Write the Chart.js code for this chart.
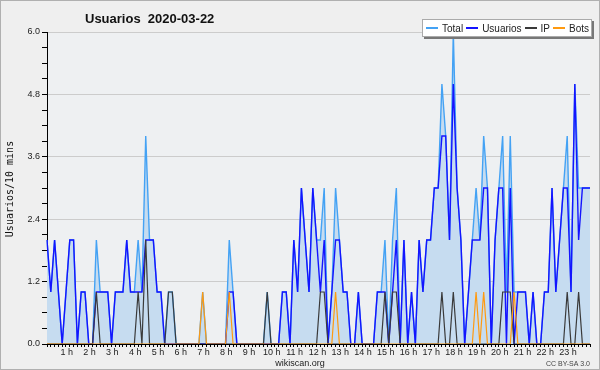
<!DOCTYPE html>
<html>
<head>
<meta charset="utf-8">
<script src="https://cdn.jsdelivr.net/npm/chart.js@4"></script>
<style>
  html, body { margin: 0; padding: 0; background: #efefef; }
  #wrap { position: relative; width: 600px; height: 370px; }
  #legend {
    position: absolute; left: 422px; top: 19px; height: 18px;
    background: #fff; border: 1px solid #aaa; box-shadow: 2px 2px 0 #777;
    font: 10px "Liberation Sans", sans-serif; color: #222;
    display: flex; align-items: center; padding: 0 2px 0 3px; white-space: nowrap; box-sizing: border-box;
  }
  #legend .sw { display: inline-block; width: 12px; height: 1.5px; margin: 0 4px 0 0; }
  #legend .it { margin-right: 3px; display: flex; align-items: center; }
  #legend .it:last-child { margin-right: 0; }
</style>
</head>
<body>
<div id="wrap">
  <canvas id="chart" width="600" height="370"></canvas>
  <div id="legend"></div>
</div>
<script>
// hour labels on the x axis, one per 6 slots of 10 minutes
const hourLabels = ['', '1 h', '2 h', '3 h', '4 h', '5 h', '6 h', '7 h', '8 h', '9 h', '10 h', '11 h',
  '12 h', '13 h', '14 h', '15 h', '16 h', '17 h', '18 h', '19 h', '20 h', '21 h', '22 h', '23 h'];

// values per 10 minutes, one row per hour
const total = [
  2, 1, 2, 1, 0, 1,   2, 2, 0, 1, 1, 0,   0, 2, 1, 1, 1, 0,   1, 1, 1, 2, 1, 1,
  2, 1, 4, 2, 2, 1,   1, 0, 1, 1, 0, 0,   0, 0, 0, 0, 0, 1,   0, 0, 0, 0, 0, 0,
  2, 1, 0, 0, 0, 0,   0, 0, 0, 0, 1, 0,   0, 0, 1, 1, 0, 2,   1, 3, 2, 1, 3, 2,
  2, 3, 0, 1, 3, 2,   1, 1, 0, 0, 1, 0,   0, 0, 0, 1, 1, 2,   0, 2, 3, 0, 2, 0,
  1, 0, 2, 1, 2, 2,   3, 3, 5, 4, 2, 6,   3, 2, 0, 1, 2, 3,   2, 4, 3, 0, 2, 3,
  4, 1, 4, 1, 1, 1,   1, 0, 1, 0, 0, 1,   1, 3, 1, 2, 3, 4,   1, 5, 3, 3, 3, 3
];
const usuarios = [
  2, 1, 2, 1, 0, 1,   2, 2, 0, 1, 1, 0,   0, 1, 1, 1, 1, 0,   1, 1, 1, 2, 1, 1,
  1, 1, 2, 2, 2, 1,   1, 0, 0, 0, 0, 0,   0, 0, 0, 0, 0, 0,   0, 0, 0, 0, 0, 0,
  1, 1, 0, 0, 0, 0,   0, 0, 0, 0, 0, 0,   0, 0, 1, 1, 0, 2,   1, 3, 2, 1, 3, 2,
  1, 2, 0, 1, 2, 2,   1, 1, 0, 0, 1, 0,   0, 0, 0, 1, 1, 1,   0, 1, 2, 0, 2, 0,
  1, 0, 2, 1, 2, 2,   3, 3, 4, 4, 2, 5,   3, 2, 0, 1, 2, 2,   2, 3, 3, 0, 2, 3,
  3, 0, 3, 0, 1, 1,   1, 0, 1, 0, 0, 1,   1, 3, 1, 2, 3, 3,   1, 5, 2, 3, 3, 3
];
const ip = [
  0, 0, 0, 0, 0, 0,   0, 0, 0, 0, 0, 0,   0, 1, 0, 0, 0, 0,   0, 0, 0, 0, 0, 0,
  1, 0, 2, 0, 0, 0,   0, 0, 1, 1, 0, 0,   0, 0, 0, 0, 0, 0,   0, 0, 0, 0, 0, 0,
  0, 0, 0, 0, 0, 0,   0, 0, 0, 0, 1, 0,   0, 0, 0, 0, 0, 0,   0, 0, 0, 0, 0, 0,
  1, 1, 0, 0, 0, 0,   0, 0, 0, 0, 0, 0,   0, 0, 0, 0, 0, 1,   0, 1, 1, 0, 0, 0,
  0, 0, 0, 0, 0, 0,   0, 0, 1, 0, 0, 1,   0, 0, 0, 0, 0, 0,   0, 0, 0, 0, 0, 0,
  1, 1, 1, 0, 0, 0,   0, 0, 0, 0, 0, 0,   0, 0, 0, 0, 0, 1,   0, 0, 1, 0, 0, 0
];
const bots = [
  0, 0, 0, 0, 0, 0,   0, 0, 0, 0, 0, 0,   0, 0, 0, 0, 0, 0,   0, 0, 0, 0, 0, 0,
  0, 0, 0, 0, 0, 0,   0, 0, 0, 0, 0, 0,   0, 0, 0, 0, 0, 1,   0, 0, 0, 0, 0, 0,
  1, 0, 0, 0, 0, 0,   0, 0, 0, 0, 0, 0,   0, 0, 0, 0, 0, 0,   0, 0, 0, 0, 0, 0,
  0, 0, 0, 0, 1, 0,   0, 0, 0, 0, 0, 0,   0, 0, 0, 0, 0, 0,   0, 0, 0, 0, 0, 0,
  0, 0, 0, 0, 0, 0,   0, 0, 0, 0, 0, 0,   0, 0, 0, 0, 0, 1,   0, 1, 0, 0, 0, 0,
  0, 0, 0, 1, 0, 0,   0, 0, 0, 0, 0, 0,   0, 0, 0, 0, 0, 0,   0, 0, 0, 0, 0, 0
];

const seriesNames = ['Total', 'Usuarios', 'IP', 'Bots'];
const seriesColors = ['#44a2f4', '#1414ff', '#3a3a3a', '#ff9a10'];
const chartTitle = 'Usuarios  2020-03-22';
const yTitle = 'Usuarios/10 mins';
const xTitle = 'wikiscan.org';
const credit = 'CC BY-SA 3.0';

const slots = total.map((v, i) => i);
const isMajor = v => Math.abs(v / 1.2 - Math.round(v / 1.2)) < 1e-6;

// legend box (top right)
const legend = document.getElementById('legend');
seriesNames.forEach((name, i) => {
  legend.innerHTML += `<span class="it"><span class="sw" style="background:${seriesColors[i]}"></span>${name}</span>`;
});

// background, frame and the loose texts
const decor = {
  id: 'decor',
  beforeDraw(chart) {
    const { ctx, chartArea: a, width, height } = chart;
    ctx.save();
    ctx.fillStyle = '#efefef';
    ctx.fillRect(0, 0, width, height);
    ctx.fillStyle = '#eef0f2';
    ctx.fillRect(a.left, a.top, a.right - a.left, a.bottom - a.top);
    ctx.restore();
  },
  afterDraw(chart) {
    const { ctx, width, height } = chart;
    ctx.save();
    ctx.strokeStyle = '#b0b0b0';
    ctx.lineWidth = 1;
    ctx.strokeRect(0.5, 0.5, width - 1, height - 1);

    ctx.fillStyle = '#111';
    ctx.textBaseline = 'alphabetic';
    ctx.font = 'bold 13px "Liberation Sans", sans-serif';
    ctx.fillText(chartTitle, 85, 23);

    ctx.font = '9px "Liberation Sans", sans-serif';
    ctx.textAlign = 'center';
    ctx.fillStyle = '#222';
    ctx.fillText(xTitle, 300, 366);

    ctx.font = '7px "Liberation Sans", sans-serif';
    ctx.textAlign = 'right';
    ctx.fillStyle = '#444';
    ctx.fillText(credit, 590, 366);

    ctx.translate(13, 189);
    ctx.rotate(-Math.PI / 2);
    ctx.textAlign = 'center';
    ctx.fillStyle = '#111';
    ctx.font = '10px "DejaVu Sans Mono", monospace';
    ctx.fillText(yTitle, 0, 0);
    ctx.restore();
  }
};

function line(data, idx, width, order, extra) {
  return Object.assign({
    label: seriesNames[idx],
    data: data,
    borderColor: seriesColors[idx],
    borderWidth: width,
    pointRadius: 0,
    tension: 0,
    fill: false,
    order: order
  }, extra || {});
}

new Chart(document.getElementById('chart'), {
  type: 'line',
  data: {
    labels: slots,
    datasets: [
      line(total, 0, 1.4, 4, { fill: 'origin', backgroundColor: '#c6dcf0' }),
      line(usuarios, 1, 1.4, 3),
      line(ip, 2, 1.2, 2),
      line(bots, 3, 1.2, 1)
    ]
  },
  options: {
    responsive: false,
    animation: false,
    layout: { padding: { top: 32, right: 10, left: 0, bottom: 0 } },
    plugins: { legend: { display: false }, tooltip: { enabled: false } },
    scales: {
      x: {
        type: 'category',
        offset: false,
        afterFit: s => { s.height = 26; },
        grid: { drawOnChartArea: false, tickLength: 3, tickColor: '#000' },
        border: { color: '#000', width: 1 },
        ticks: {
          autoSkip: false, maxRotation: 0, padding: 0, labelOffset: -3,
          color: '#222', font: { family: 'Liberation Sans', size: 9 },
          callback: (v, i) => (i % 6 === 0 ? hourLabels[i / 6] : '')
        }
      },
      y: {
        min: 0, max: 6,
        afterFit: s => { s.width = 47; },
        grid: {
          tickLength: 5, tickColor: '#000',
          color: c => (isMajor(c.tick.value) ? '#cccccc' : 'rgba(0,0,0,0)')
        },
        border: { color: '#000', width: 1 },
        ticks: {
          stepSize: 0.3, padding: 2, autoSkip: false,
          color: '#222', font: { family: 'Liberation Sans', size: 9 },
          callback: v => (isMajor(v) ? v.toFixed(1) : '')
        }
      }
    }
  },
  plugins: [decor]
});
</script>
</body>
</html>
